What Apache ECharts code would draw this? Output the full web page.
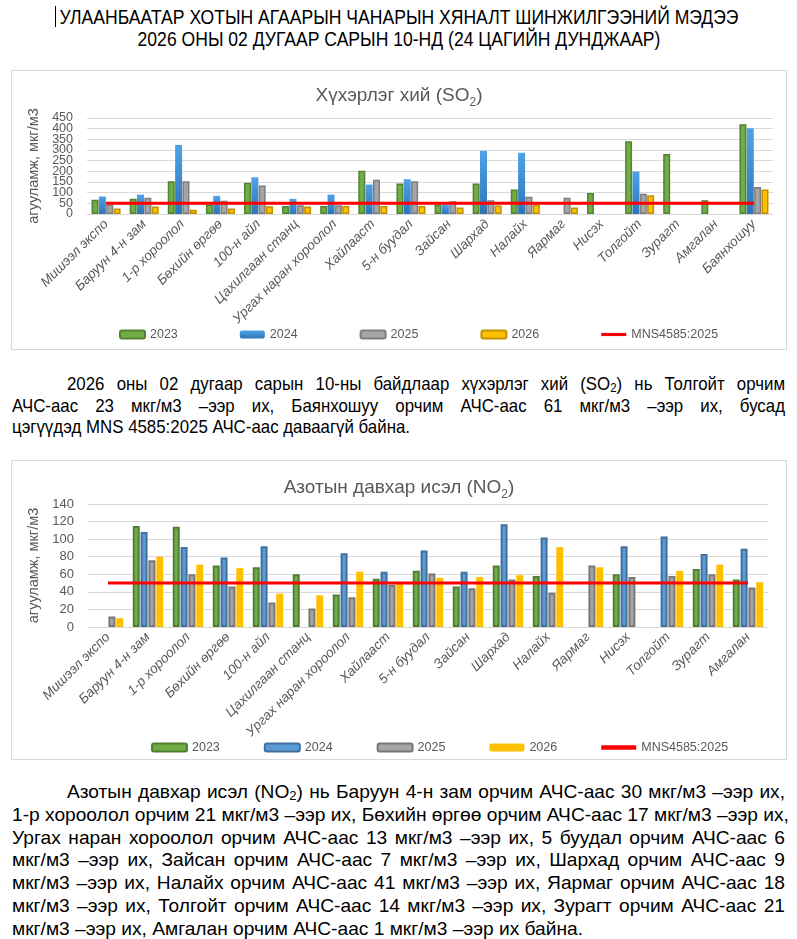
<!DOCTYPE html>
<html>
<head>
<meta charset="utf-8">
<script src="https://cdn.jsdelivr.net/npm/echarts@6/dist/echarts.min.js"></script>
<style>
  html, body { margin: 0; padding: 0; background: #fff; }
  body { width: 797px; height: 939px; position: relative; overflow: hidden;
         font-family: 'Liberation Sans Narrow', 'Arial Narrow', 'Liberation Sans', sans-serif; color: #000; }
  #head { position: absolute; top: 6px; left: -201.5px; width: 1200px; text-align: center; font-size: 19.5px; line-height: 22px; white-space: nowrap; transform-origin: 600px 0; }
  #head span.l { display: inline-block; }
  #caret { position: absolute; left: 55px; top: 6px; width: 1px; height: 21px; background: #000; }
  .box { position: absolute; left: 11px; width: 776px; border: 1px solid #d9d9d9; box-sizing: border-box; }
  .para { position: absolute; left: 12px; width: 773px; font-size: 19px; transform-origin: 0 0; }
  .para div { text-align: justify; text-align-last: justify; white-space: nowrap; }
  .para div.last { text-align-last: left; }
  .para span.m { white-space: nowrap; }
  sub { font-size: 0.68em; vertical-align: -2px; line-height: 0; }
</style>
</head>
<body>
<div id="head"><span class="l" id="h1">УЛААНБААТАР ХОТЫН АГААРЫН ЧАНАРЫН ХЯНАЛТ ШИНЖИЛГЭЭНИЙ МЭДЭЭ</span><br><span class="l">2026 ОНЫ 02 ДУГААР САРЫН 10-НД (24 ЦАГИЙН ДУНДЖААР)</span></div>
<div id="caret"></div>

<div id="c1" class="box" style="top:70px;height:280px;"></div>

<div id="p1" class="para" style="top:373px;line-height:21.5px;">
  <div class="first">2026 оны 02 дугаар сарын 10-ны байдлаар хүхэрлэг хий (SO<sub>2</sub>) нь Толгойт орчим</div>
  <div>АЧС-аас 23 мкг/м3 –ээр их, Баянхошуу орчим АЧС-аас 61 мкг/м3 –ээр их, бусад</div>
  <div class="last"><span class="m">цэгүүдэд MNS 4585:2025 АЧС-аас даваагүй байна.</span></div>
</div>

<div id="c2" class="box" style="top:460px;height:300px;"></div>

<div id="p2" class="para" style="top:781px;line-height:22.8px;">
  <div class="first">Азотын давхар исэл (NO<sub>2</sub>) нь Баруун 4-н зам орчим АЧС-аас 30 мкг/м3 –ээр их,</div>
  <div>1-р хороолол орчим 21 мкг/м3 –ээр их, Бөхийн өргөө орчим АЧС-аас 17 мкг/м3 –ээр их,</div>
  <div>Ургах наран хороолол орчим АЧС-аас 13 мкг/м3 –ээр их, 5 буудал орчим АЧС-аас 6</div>
  <div>мкг/м3 –ээр их, Зайсан орчим АЧС-аас 7 мкг/м3 –ээр их, Шархад орчим АЧС-аас 9</div>
  <div>мкг/м3 –ээр их, Налайх орчим АЧС-аас 41 мкг/м3 –ээр их, Яармаг орчим АЧС-аас 18</div>
  <div>мкг/м3 –ээр их, Толгойт орчим АЧС-аас 14 мкг/м3 –ээр их, Зурагт орчим АЧС-аас 21</div>
  <div class="last"><span class="m">мкг/м3 –ээр их, Амгалан орчим АЧС-аас 1 мкг/м3 –ээр их байна.</span></div>
</div>

<script>
// ---------- DATA ----------
var so2Categories = ['Мишээл экспо','Баруун 4-н зам','1-р хороолол','Бөхийн өргөө','100-н айл','Цахилгаан станц','Ургах наран хороолол','Хайлааст','5-н буудал','Зайсан','Шархад','Налайх','Яармаг','Нисэх','Толгойт','Зурагт','Амгалан','Баянхошуу'];
var so2_2023 = [67, 71, 154, 44, 147, 38, 38, 203, 143, 43, 143, 115, null, 99, 341, 281, 65, 421];
var so2_2024 = [82, 91, 324, 85, 172, 71, 91, 138, 163, 45, 296, 287, null, null, 199, null, null, 402];
var so2_2025 = [45, 76, 154, 62, 134, 41, 41, 161, 154, 60, 64, 81, 76, null, 95, null, null, 127];
var so2_2026 = [26, 35, 20, 26, 36, 35, 38, 38, 38, 31, 40, 43, 31, null, 88, null, null, 115];
var so2Norm   = [50, 50, 50, 50, 50, 50, 50, 50, 50, 50, 50, 50, 50, 50, 50, 50, 50, 50];
var so2Ticks = {min: 0, max: 450, interval: 50};

var no2Categories = ['Мишээл экспо','Баруун 4-н зам','1-р хороолол','Бөхийн өргөө','100-н айл','Цахилгаан станц','Ургах наран хороолол','Хайлааст','5-н буудал','Зайсан','Шархад','Налайх','Яармаг','Нисэх','Толгойт','Зурагт','Амгалан'];
var no2_2023 = [null, 115, 114, 70, 68, 60, 37, 55, 64, 46, 70, 58, null, 60, null, 66, 54];
var no2_2024 = [null, 108, 91, 79, 92, null, 84, 63, 87, 63, 117, 102, null, 92, 103, 83, 89];
var no2_2025 = [12, 76, 60, 46, 28, 21, 34, 48, 61, 44, 54, 39, 70, 57, 58, 60, 45];
var no2_2026 = [10, 80, 71, 67, 38, 36, 63, 49, 56, 57, 59, 91, 68, null, 64, 71, 51];
var no2Norm   = [50, 50, 50, 50, 50, 50, 50, 50, 50, 50, 50, 50, 50, 50, 50, 50, 50];
var no2Ticks = {min: 0, max: 140, interval: 20};

var seriesNames = ['2023', '2024', '2025', '2026', 'MNS4585:2025'];

// ---------- text condensing (horizontal scale so line widths match the page) ----------
(function () {
  var head = document.getElementById('head');
  var w = document.getElementById('h1').getBoundingClientRect().width;
  if (w > 0) head.style.transform = 'scaleX(' + (679 / w).toFixed(4) + ')';
  [['p1', 398], ['p2', 571]].forEach(function (p) {
    var el = document.getElementById(p[0]);
    var mw = el.querySelector('.m').getBoundingClientRect().width;
    if (mw > 0) {
      var s = p[1] / mw;
      el.style.width = (773 / s) + 'px';
      el.style.transform = 'scaleX(' + s.toFixed(4) + ')';
      el.querySelector('.first').style.paddingLeft = (55 / s) + 'px';
    }
  });
})();

// ---------- CHARTS ----------
var FONT = "'Liberation Sans Narrow', 'Arial Narrow', 'Liberation Sans', sans-serif";
var GREY = '#595959';

function titleRich(main) {
  return {
    text: '{a|' + main + '}{s|2}{a|)}',
    left: 'center',
    textStyle: {
      fontWeight: 'normal',
      rich: {
        a: {fontFamily: FONT, fontSize: 19, fontWeight: 'normal', color: GREY, lineHeight: 24, verticalAlign: 'bottom'},
        s: {fontFamily: FONT, fontSize: 12, fontWeight: 'normal', color: GREY, lineHeight: 24, verticalAlign: 'bottom', padding: [0, 0, -4, 0]}
      }
    }
  };
}

function makeOption(cfg) {
  var styles = cfg.styles;
  var series = [cfg.d23, cfg.d24, cfg.d25, cfg.d26].map(function (d, i) {
    return {
      name: seriesNames[i], type: 'bar', data: d,
      barWidth: cfg.barWidth, barGap: cfg.barGap,
      itemStyle: styles[i]
    };
  });
  series.push({
    name: seriesNames[4], type: 'line', data: cfg.norm, symbol: 'none',
    lineStyle: {color: '#FF0000', width: 3}, itemStyle: {color: '#FF0000'}, z: 5
  });
  var t = titleRich(cfg.title);
  t.top = cfg.titleTop;
  var legendData = seriesNames.slice(0, 4).map(function (n) { return {name: n}; });
  legendData.push({name: seriesNames[4], icon: 'path://M0,0H40V5H0Z', itemStyle: {color: '#FF0000'}});
  var labelBase = {fontFamily: FONT, fontSize: cfg.tickFont, color: GREY, margin: 14, hideOverlap: false};
  var mainY = {
    type: 'value', min: cfg.ticks.min, max: cfg.ticks.max, interval: cfg.ticks.interval,
    name: 'агууламж, мкг/м3', nameLocation: 'middle', nameRotate: 90, nameGap: cfg.nameGap,
    nameTextStyle: {fontFamily: FONT, fontSize: 14.5, color: GREY},
    axisLine: {show: false}, axisTick: {show: false},
    splitLine: {lineStyle: {color: '#d9d9d9'}},
    axisLabel: Object.assign({}, labelBase, cfg.dense ? {showMinLabel: false, showMaxLabel: false} : {showMinLabel: true, showMaxLabel: true})
  };
  var yAxes = [mainY];
  if (cfg.dense) {
    // same scale; carries only the end labels (min and max) that the dense axis would drop
    yAxes.push({
      type: 'value', position: 'left', offset: 0,
      min: cfg.ticks.min, max: cfg.ticks.max, interval: cfg.ticks.interval,
      axisLine: {show: false}, axisTick: {show: false}, splitLine: {show: false},
      axisLabel: Object.assign({}, labelBase, {
        showMinLabel: true, showMaxLabel: true,
        formatter: function (v) { return (v === cfg.ticks.min || v === cfg.ticks.max) ? String(v) : ''; }
      })
    });
  }
  return {
    animation: false,
    title: t,
    grid: cfg.grid,
    legend: {
      top: cfg.legendTop, left: cfg.legendLeft, itemGap: cfg.legendGap,
      itemWidth: cfg.iconW, itemHeight: 8,
      textStyle: {fontFamily: FONT, fontSize: 12.5, color: GREY},
      data: legendData
    },
    xAxis: {
      type: 'category', data: cfg.cats,
      axisTick: {show: false},
      axisLine: {lineStyle: {color: '#d9d9d9'}},
      axisLabel: {interval: 0, rotate: 45, fontFamily: FONT, fontSize: 13.5, color: GREY, fontStyle: 'italic', margin: 8}
    },
    yAxis: yAxes,
    series: series
  };
}

var so2Styles = [
  {color: '#70AD47', borderColor: '#548235', borderWidth: 1.5},
  {color: new echarts.graphic.LinearGradient(0, 0, 0, 1, [{offset: 0, color: '#4FA2E8'}, {offset: 1, color: '#2E75B6'}])},
  {color: '#A5A5A5', borderColor: '#7F7F7F', borderWidth: 1.5},
  {color: '#FFC000', borderColor: '#BF9000', borderWidth: 1.5}
];
var no2Styles = [
  {color: '#70AD47', borderColor: '#507E32', borderWidth: 2},
  {color: '#5B9BD5', borderColor: '#41719C', borderWidth: 2},
  {color: '#A5A5A5', borderColor: '#787878', borderWidth: 2},
  {color: '#FFC000'}
];

var c1 = echarts.init(document.getElementById('c1'), null, {renderer: 'canvas'});
c1.setOption(makeOption({
  title: 'Хүхэрлэг хий (SO', titleTop: 5,
  cats: so2Categories, d23: so2_2023, d24: so2_2024, d25: so2_2025, d26: so2_2026, norm: so2Norm,
  ticks: so2Ticks, styles: so2Styles, tickFont: 12.5, dense: true,
  grid: {left: 75, right: 13, top: 47, bottom: 135},
  barWidth: 7, barGap: '5%',
  legendTop: 252, legendLeft: 102, legendGap: 62, iconW: 25,
  nameGap: 38
}));

var c2 = echarts.init(document.getElementById('c2'), null, {renderer: 'canvas'});
c2.setOption(makeOption({
  title: 'Азотын давхар исэл (NO', titleTop: 7,
  cats: no2Categories, d23: no2_2023, d24: no2_2024, d25: no2_2025, d26: no2_2026, norm: no2Norm,
  ticks: no2Ticks, styles: no2Styles, tickFont: 13, dense: false,
  grid: {left: 76, right: 18, top: 43, bottom: 132},
  barWidth: 7, barGap: '12%',
  legendTop: 275, legendLeft: 134, legendGap: 44, iconW: 35,
  nameGap: 38
}));
</script>
</body>
</html>
